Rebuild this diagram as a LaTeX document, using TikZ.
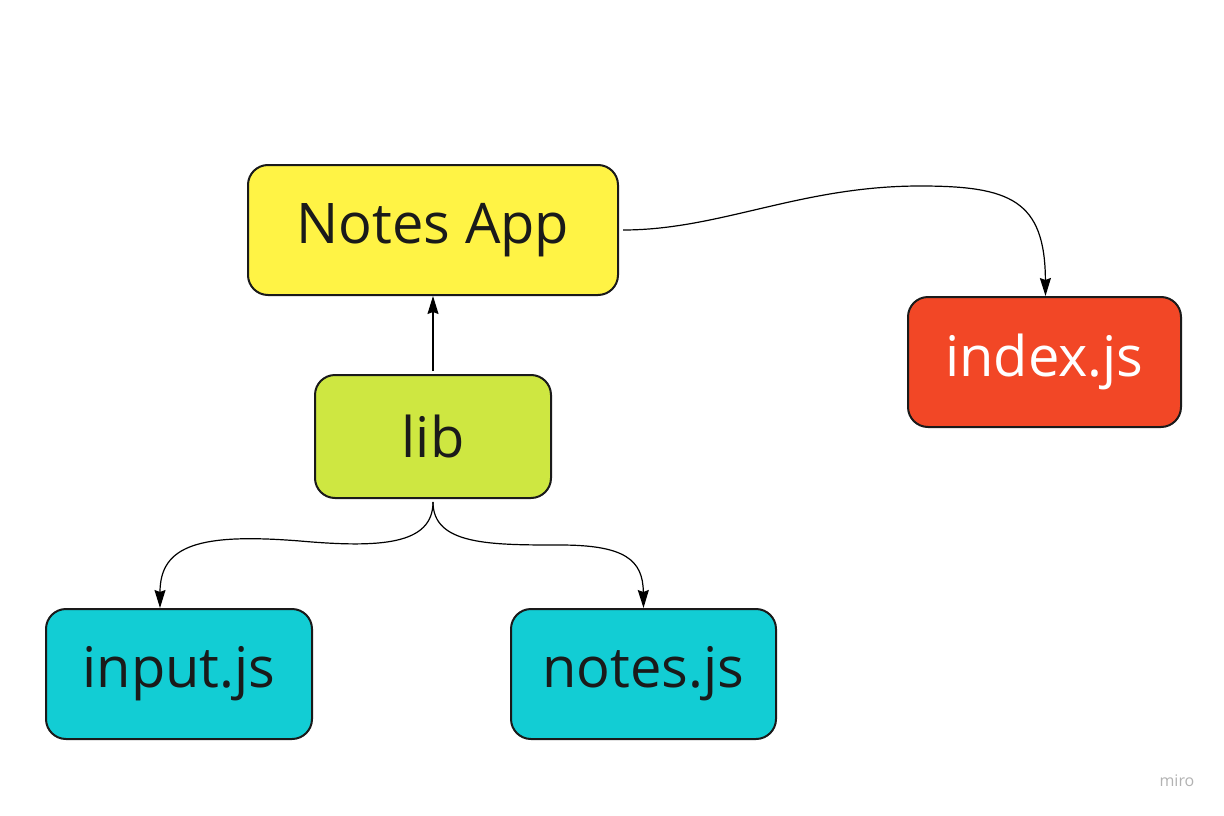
\documentclass[tikz,border=0pt]{standalone}
\usepackage{fontspec}
\setmainfont{Open Sans}
\usetikzlibrary{arrows.meta}
\definecolor{ytw}{HTML}{FFF345}
\definecolor{lim}{HTML}{CEE741}
\definecolor{red}{HTML}{F24726}
\definecolor{cyn}{HTML}{12CDD4}
\definecolor{ink}{HTML}{1A1A1A}
\tikzset{
  box/.style={draw=ink, line width=2pt, rounded corners=20pt, text=ink,
    font=\fontsize{56}{64}\selectfont, inner sep=0pt},
  conn/.style={draw=black, line width=1.2pt, -{Stealth[length=18pt,width=11pt,inset=2pt]}},
}
\begin{document}
\begin{tikzpicture}[x=1pt,y=-1pt]
\useasboundingbox (0,0) rectangle (1224,816);
\node[box, fill=ytw, minimum width=370pt, minimum height=130pt] (app) at (433,230) {Notes App};
\node[box, fill=lim, minimum width=236pt, minimum height=123pt] (lib) at (433,436.5) {lib};
\node[box, fill=red, text=white, minimum width=273pt, minimum height=130pt] (idx) at (1044.5,362) {index.js};
\node[box, fill=cyn, minimum width=266pt, minimum height=130pt] (inp) at (179,674) {input.js};
\node[box, fill=cyn, minimum width=265pt, minimum height=130pt] (nts) at (643.5,674) {notes.js};
\node[text=black!30, font=\fontsize{16}{18}\selectfont] (miro) at (1177,781) {miro};
\coordinate (appR) at ([xshift=4pt]app.east);
\coordinate (libB) at ([yshift=-3pt]lib.south);
\coordinate (libT) at ([yshift=3pt]lib.north);
\draw[conn] (libT) -- (app.south);
\draw[conn] (appR) .. controls (720,230) and (800,186) .. (920,186) .. controls (1010,186) and (1045,200) .. ([xshift=1pt]idx.north);
\draw[conn] (libB) .. controls (433,545) and (380,548) .. (300,541) .. controls (200,533) and (160,545) .. ([xshift=-19pt]inp.north);
\draw[conn] (libB) .. controls (433,545) and (490,545) .. (560,545) .. controls (625,545) and (643,560) .. ([xshift=0pt]nts.north);
\end{tikzpicture}
\end{document}
